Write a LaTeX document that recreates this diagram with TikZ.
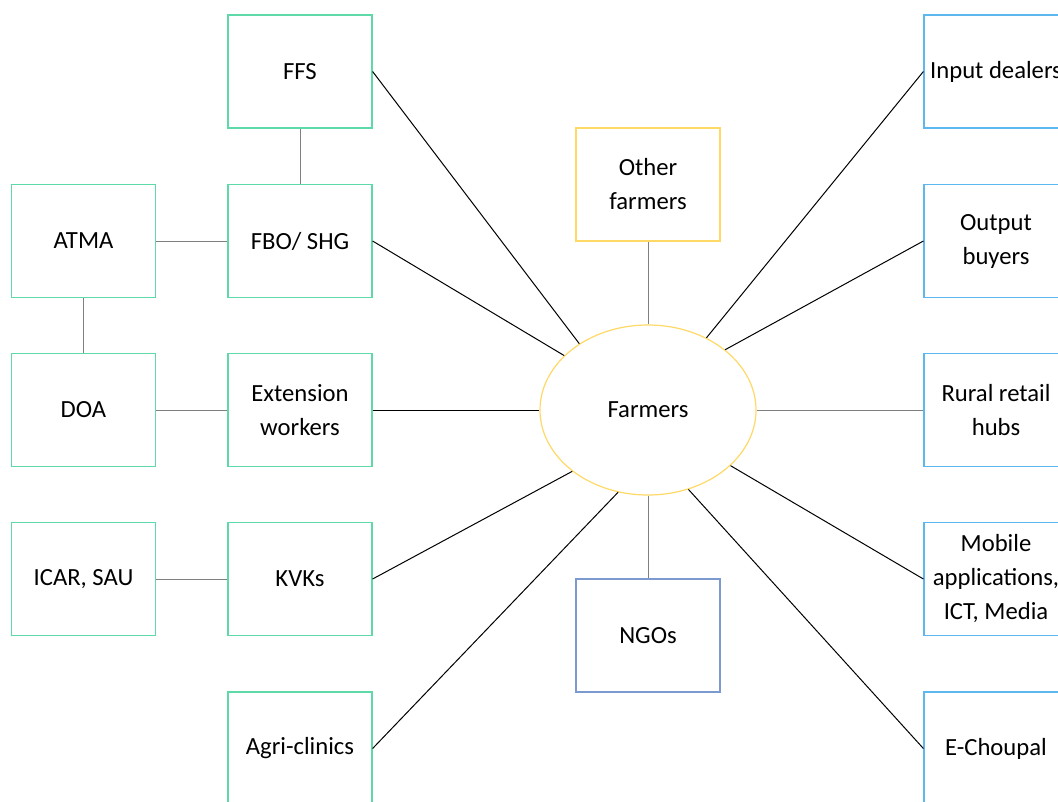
\documentclass[tikz,border=0pt]{standalone}
\usepackage{fontspec}
\setmainfont{Carlito}
\usetikzlibrary{shapes.geometric}
\definecolor{grn}{HTML}{5ED9A8}
\definecolor{ylw}{HTML}{FFD966}
\definecolor{blu}{HTML}{5CB8EE}
\definecolor{ngoblue}{HTML}{7A9AD0}
\definecolor{lgray}{HTML}{808080}
\tikzset{
  box/.style={draw, line width=0.9pt, fill=white, minimum width=108pt, minimum height=84.75pt,
    inner sep=0pt, align=center, font=\fontsize{18.5}{25.5}\selectfont},
  gbox/.style={box, draw=grn},
  bbox/.style={box, draw=blu},
  ybox/.style={box, draw=ylw},
  nbox/.style={box, draw=ngoblue},
  hub/.style={ellipse, draw=ylw, line width=0.9pt, fill=white, minimum width=162pt, minimum height=127.5pt,
    inner sep=0pt, font=\fontsize{18.5}{25.5}\selectfont},
  blk/.style={draw=black, line width=0.75pt},
  gry/.style={draw=lgray, line width=0.75pt}
}
\begin{document}
\begin{tikzpicture}[x=0.75pt, y=-0.75pt]
\useasboundingbox (0,0) rectangle (1058,801);
\clip (0,0) rectangle (1058,801);
\fill[white] (0,0) rectangle (1058,801);
% left column
\node[gbox] (ffs) at (300,71.5) {FFS};
\node[gbox] (fbo) at (300,241) {FBO/ SHG};
\node[gbox] (atma) at (83.5,241) {ATMA};
\node[gbox] (doa) at (83.5,410) {DOA};
\node[gbox] (ext) at (300,410) {Extension\\workers};
\node[gbox] (icar) at (83.5,579) {ICAR, SAU};
\node[gbox] (kvk) at (300,579) {KVKs};
\node[gbox] (agri) at (300,748.5) {Agri-clinics};
% centre
\node[hub] (fm) at (648,410) {Farmers};
\node[ybox] (oth) at (648,184.5) {Other\\farmers};
\node[nbox] (ngo) at (648,635.5) {NGOs};
% right column
\node[bbox] (inp) at (996,71.5) {Input dealers};
\node[bbox] (out) at (996,241) {Output\\buyers};
\node[bbox] (rur) at (996,410) {Rural retail\\hubs};
\node[bbox] (mob) at (996,579) {Mobile\\applications,\\ICT, Media};
\node[bbox] (ech) at (996,748.5) {E-Choupal};
% gray connectors
\draw[gry] (ffs.south) -- (fbo.north);
\draw[gry] (atma.east) -- (fbo.west);
\draw[gry] (atma.south) -- (doa.north);
\draw[gry] (doa.east) -- (ext.west);
\draw[gry] (icar.east) -- (kvk.west);
\draw[gry] (oth.south) -- (fm.north);
\draw[gry] (fm.south) -- (ngo.north);
\draw[gry] (fm.east) -- (rur.west);
% black connectors
\draw[blk] (ext.east) -- (fm.west);
\draw[blk] (ffs.east) -- (fm.136);
\draw[blk] (fbo.east) -- (fm.147);
\draw[blk] (kvk.east) -- (fm.219);
\draw[blk] (agri.east) -- (fm.250);
\draw[blk] (inp.west) -- (fm.51);
\draw[blk] (out.west) -- (fm.38);
\draw[blk] (mob.west) -- (fm.326.5);
\draw[blk] (ech.west) -- (fm.297.4);
\end{tikzpicture}
\end{document}
